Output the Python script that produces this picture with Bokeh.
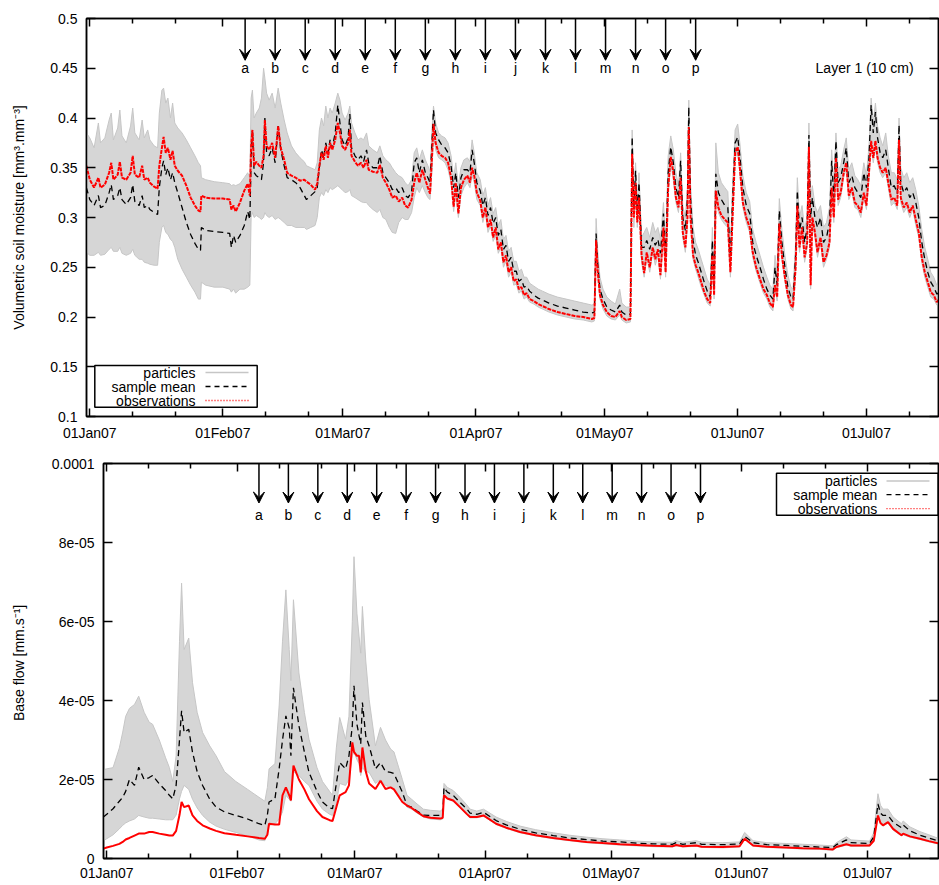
import numpy as np
from bokeh.plotting import figure
from bokeh.models import (Range1d, FixedTicker, LinearAxis, Arrow, VeeHead, Label,
                          BoxAnnotation, CustomJSTickFormatter)
from bokeh.core.properties import value
from bokeh.embed import file_html
from bokeh.resources import INLINE

FONT = "Liberation Sans"

month_days = [0, 31, 59, 90, 120, 151, 181]
month_labels = ["01Jan07", "01Feb07", "01Mar07", "01Apr07", "01May07", "01Jun07", "01Jul07"]
minor_days = [10, 20, 41, 51, 69, 79, 100, 110, 130, 140, 161, 171, 191]

arrow_days = [36.2, 43.2, 50.2, 57.2, 64.2, 71.2, 78.2, 85.2, 92.2, 99.2, 106.2, 113.2,
              120.2, 127.2, 134.2, 141.2]
arrow_labels = ["a", "b", "c", "d", "e", "f", "g", "h", "i", "j", "k", "l", "m", "n", "o", "p"]

sm_ticks = [0.1, 0.15, 0.2, 0.25, 0.3, 0.35, 0.4, 0.45, 0.5]
sm_tick_labels = ["0.1", "0.15", "0.2", "0.25", "0.3", "0.35", "0.4", "0.45", "0.5"]
bf_ticks = [0, 2, 4, 6, 8, 10]
bf_tick_labels = ["0", "2e-05", "4e-05", "6e-05", "8e-05", "0.0001"]

sm_days = [
    -0.8, 0.0, 1.0, 2.0, 2.5, 3.5, 4.5, 5.0, 5.5, 6.5,
    7.0, 7.5, 8.5, 9.5, 10.0, 10.5, 11.5, 12.2, 12.7, 13.5,
    14.0, 15.0, 15.8, 16.2, 16.8, 17.2, 17.7, 18.2, 18.8, 19.3,
    19.8, 20.5, 21.5, 22.5, 23.5, 24.5, 25.3, 25.8, 26.0, 27.0,
    29.0, 31.0, 32.6, 33.0, 33.5, 34.0, 35.0, 36.0, 36.8, 37.3,
    37.6, 37.9, 38.3, 38.8, 39.5, 40.0, 40.5, 40.8, 41.2, 41.8,
    42.5, 43.2, 43.9, 44.5, 45.3, 46.0, 47.0, 48.0, 49.0, 50.0,
    50.5, 51.5, 52.5, 53.0, 53.5, 54.0, 54.5, 55.0, 55.5, 56.0,
    56.5, 57.2, 57.8, 58.3, 58.8, 59.5, 60.2, 60.6, 61.0, 61.8,
    62.5, 63.2, 63.8, 64.5, 65.0, 66.0, 67.0, 67.6, 68.3, 69.0,
    69.8, 70.5, 71.3, 72.0, 72.8, 73.5, 74.2, 75.0, 75.6, 76.2,
    76.8, 77.5, 78.2, 78.8, 79.3, 79.8, 80.1, 80.6, 81.3, 82.0,
    82.8, 83.5, 84.2, 84.8, 85.3, 85.9, 86.5, 87.2, 88.0, 88.6,
    89.1, 89.6, 90.2, 91.0, 91.6, 92.2, 92.8, 93.4, 94.0, 94.6,
    95.2, 95.8, 96.4, 97.0, 97.6, 98.2, 98.8, 99.4, 100.0, 100.6,
    101.2, 101.8, 102.5, 103.5, 104.5, 105.5, 107.0, 109.0, 111.0, 113.0,
    115.0, 117.0, 117.6, 118.0, 118.4, 118.9, 119.6, 120.5, 121.5, 122.5,
    123.5, 124.0, 125.0, 126.0, 126.4, 126.8, 127.2, 127.6, 128.0, 128.6,
    129.2, 129.8, 130.5, 131.2, 131.8, 132.4, 133.0, 133.7, 134.2, 134.8,
    135.4, 136.0, 136.6, 137.2, 137.7, 138.2, 138.8, 139.3, 139.6, 140.0,
    140.6, 141.2, 141.8, 142.5, 143.2, 143.9, 144.6, 145.1, 145.5, 145.9,
    146.5, 147.2, 148.0, 148.7, 149.3, 149.8, 150.4, 151.0, 151.5, 152.2,
    153.0, 153.8, 154.5, 155.3, 156.2, 157.0, 157.8, 158.5, 159.2, 159.7,
    160.2, 160.7, 161.3, 162.0, 162.7, 163.4, 163.9, 164.5, 164.9, 165.4,
    166.0, 166.6, 167.2, 167.6, 168.0, 168.4, 169.0, 169.6, 170.3, 171.0,
    171.7, 172.4, 172.9, 173.4, 173.9, 174.4, 175.0, 175.7, 176.3, 176.9,
    177.6, 178.3, 179.0, 179.7, 180.4, 181.0, 181.6, 182.1, 182.6, 183.1,
    183.6, 184.2, 184.8, 185.5, 186.1, 186.8, 187.5, 188.2, 188.6, 189.0,
    189.7, 190.4, 191.1, 191.8, 192.5, 193.2, 193.9, 194.6, 195.3, 196.0,
    196.7, 197.4, 198.0]

sm_obs = [
    0.352, 0.338, 0.330, 0.340, 0.330, 0.333, 0.345, 0.355, 0.338, 0.343,
    0.356, 0.340, 0.338, 0.345, 0.362, 0.343, 0.340, 0.352, 0.338, 0.340,
    0.335, 0.331, 0.329, 0.352, 0.370, 0.381, 0.365, 0.370, 0.358, 0.367,
    0.352, 0.347, 0.342, 0.332, 0.320, 0.312, 0.307, 0.306, 0.322, 0.320,
    0.319, 0.319, 0.318, 0.308, 0.312, 0.306, 0.315, 0.327, 0.334, 0.322,
    0.372, 0.388, 0.352, 0.356, 0.352, 0.350, 0.362, 0.398, 0.372, 0.368,
    0.375, 0.360, 0.392, 0.370, 0.358, 0.345, 0.342, 0.340, 0.337, 0.338,
    0.336, 0.333, 0.328, 0.334, 0.352, 0.365, 0.358, 0.372, 0.360, 0.375,
    0.368, 0.378, 0.395, 0.385, 0.372, 0.368, 0.375, 0.388, 0.362, 0.356,
    0.352, 0.355, 0.350, 0.358, 0.348, 0.346, 0.345, 0.353, 0.340, 0.335,
    0.328, 0.320, 0.322, 0.316, 0.320, 0.312, 0.310, 0.318, 0.335, 0.345,
    0.335, 0.348, 0.338, 0.330, 0.324, 0.365, 0.394, 0.375, 0.365, 0.362,
    0.360, 0.355, 0.340, 0.311, 0.335, 0.304, 0.330, 0.338, 0.342, 0.335,
    0.350, 0.342, 0.325, 0.317, 0.300, 0.310, 0.290, 0.298, 0.280, 0.290,
    0.268, 0.275, 0.255, 0.262, 0.245, 0.250, 0.236, 0.238, 0.228, 0.230,
    0.222, 0.224, 0.218, 0.216, 0.213, 0.211, 0.208, 0.205, 0.203, 0.201,
    0.200, 0.198, 0.199, 0.277, 0.245, 0.222, 0.212, 0.205, 0.201, 0.200,
    0.206, 0.200, 0.197, 0.198, 0.364, 0.300, 0.335, 0.295, 0.320, 0.262,
    0.244, 0.265, 0.250, 0.270, 0.258, 0.268, 0.242, 0.290, 0.245, 0.330,
    0.361, 0.345, 0.320, 0.310, 0.340, 0.285, 0.270, 0.300, 0.391, 0.300,
    0.262, 0.252, 0.245, 0.235, 0.225, 0.218, 0.214, 0.262, 0.222, 0.327,
    0.310, 0.302, 0.298, 0.295, 0.245, 0.300, 0.365, 0.371, 0.350, 0.315,
    0.300, 0.290, 0.265, 0.250, 0.238, 0.228, 0.222, 0.214, 0.210, 0.232,
    0.220, 0.294, 0.262, 0.240, 0.222, 0.212, 0.210, 0.250, 0.312, 0.270,
    0.290, 0.260, 0.275, 0.371, 0.232, 0.300, 0.285, 0.265, 0.280, 0.255,
    0.262, 0.275, 0.330, 0.300, 0.360, 0.318, 0.325, 0.345, 0.355, 0.322,
    0.330, 0.315, 0.312, 0.305, 0.325, 0.312, 0.345, 0.377, 0.360, 0.377,
    0.360, 0.350, 0.345, 0.350, 0.335, 0.318, 0.320, 0.312, 0.378, 0.320,
    0.310, 0.315, 0.305, 0.312, 0.298, 0.285, 0.260, 0.245, 0.235, 0.225,
    0.222, 0.215, 0.218]

sm_mean = [
    0.330, 0.318, 0.312, 0.322, 0.310, 0.312, 0.325, 0.333, 0.318, 0.322,
    0.330, 0.318, 0.313, 0.320, 0.333, 0.316, 0.312, 0.322, 0.310, 0.312,
    0.308, 0.305, 0.303, 0.330, 0.350, 0.357, 0.343, 0.350, 0.338, 0.345,
    0.335, 0.325, 0.310, 0.295, 0.283, 0.274, 0.268, 0.267, 0.290, 0.287,
    0.286, 0.285, 0.284, 0.270, 0.282, 0.275, 0.282, 0.292, 0.306, 0.298,
    0.360, 0.388, 0.345, 0.342, 0.340, 0.338, 0.355, 0.400, 0.365, 0.362,
    0.370, 0.355, 0.392, 0.368, 0.352, 0.340, 0.338, 0.335, 0.330, 0.322,
    0.318, 0.322, 0.326, 0.330, 0.350, 0.368, 0.360, 0.375, 0.365, 0.378,
    0.370, 0.385, 0.413, 0.395, 0.378, 0.372, 0.380, 0.404, 0.370, 0.362,
    0.358, 0.362, 0.356, 0.368, 0.355, 0.350, 0.350, 0.362, 0.345, 0.340,
    0.335, 0.328, 0.330, 0.325, 0.330, 0.322, 0.320, 0.326, 0.355, 0.360,
    0.345, 0.358, 0.345, 0.340, 0.335, 0.380, 0.408, 0.385, 0.378, 0.373,
    0.370, 0.365, 0.352, 0.330, 0.345, 0.320, 0.340, 0.348, 0.348, 0.345,
    0.368, 0.355, 0.335, 0.327, 0.312, 0.320, 0.302, 0.310, 0.294, 0.300,
    0.282, 0.288, 0.268, 0.272, 0.256, 0.260, 0.246, 0.246, 0.236, 0.238,
    0.230, 0.231, 0.226, 0.222, 0.219, 0.217, 0.214, 0.211, 0.209, 0.207,
    0.205, 0.204, 0.205, 0.284, 0.252, 0.228, 0.218, 0.210, 0.207, 0.205,
    0.212, 0.205, 0.202, 0.203, 0.381, 0.310, 0.347, 0.305, 0.335, 0.270,
    0.270, 0.277, 0.268, 0.280, 0.272, 0.278, 0.264, 0.304, 0.260, 0.345,
    0.371, 0.355, 0.330, 0.320, 0.357, 0.300, 0.287, 0.320, 0.411, 0.320,
    0.277, 0.262, 0.255, 0.245, 0.235, 0.226, 0.220, 0.277, 0.228, 0.344,
    0.325, 0.318, 0.312, 0.310, 0.257, 0.318, 0.375, 0.381, 0.362, 0.330,
    0.312, 0.304, 0.275, 0.262, 0.250, 0.238, 0.228, 0.222, 0.218, 0.250,
    0.232, 0.307, 0.275, 0.250, 0.230, 0.220, 0.218, 0.262, 0.327, 0.287,
    0.300, 0.275, 0.290, 0.383, 0.300, 0.320, 0.300, 0.290, 0.300, 0.275,
    0.280, 0.295, 0.357, 0.320, 0.377, 0.335, 0.340, 0.355, 0.370, 0.335,
    0.342, 0.330, 0.325, 0.320, 0.345, 0.330, 0.360, 0.413, 0.385, 0.406,
    0.380, 0.365, 0.360, 0.368, 0.350, 0.330, 0.332, 0.324, 0.393, 0.335,
    0.325, 0.330, 0.320, 0.325, 0.315, 0.300, 0.275, 0.258, 0.245, 0.235,
    0.230, 0.223, 0.225]

sm_particles_max = [
    0.385, 0.380, 0.370, 0.395, 0.375, 0.380, 0.398, 0.405, 0.378, 0.390,
    0.408, 0.382, 0.375, 0.392, 0.410, 0.385, 0.378, 0.398, 0.380, 0.388,
    0.378, 0.372, 0.370, 0.405, 0.428, 0.430, 0.415, 0.420, 0.400, 0.415,
    0.395, 0.390, 0.385, 0.378, 0.370, 0.362, 0.355, 0.352, 0.340, 0.338,
    0.336, 0.335, 0.334, 0.332, 0.333, 0.332, 0.334, 0.340, 0.345, 0.340,
    0.420, 0.428, 0.400, 0.405, 0.410, 0.420, 0.450, 0.440, 0.425, 0.418,
    0.425, 0.410, 0.430, 0.415, 0.398, 0.385, 0.372, 0.365, 0.360, 0.356,
    0.352, 0.350, 0.348, 0.355, 0.388, 0.400, 0.392, 0.412, 0.400, 0.410,
    0.405, 0.415, 0.425, 0.418, 0.405, 0.398, 0.405, 0.412, 0.395, 0.385,
    0.378, 0.380, 0.378, 0.385, 0.372, 0.368, 0.365, 0.372, 0.362, 0.358,
    0.355, 0.350, 0.345, 0.342, 0.340, 0.335, 0.332, 0.338, 0.365, 0.370,
    0.358, 0.368, 0.358, 0.352, 0.346, 0.392, 0.412, 0.395, 0.385, 0.382,
    0.380, 0.375, 0.362, 0.340, 0.355, 0.332, 0.350, 0.358, 0.360, 0.356,
    0.378, 0.365, 0.345, 0.338, 0.322, 0.330, 0.312, 0.320, 0.304, 0.310,
    0.292, 0.298, 0.278, 0.282, 0.266, 0.270, 0.256, 0.256, 0.246, 0.248,
    0.240, 0.240, 0.234, 0.231, 0.228, 0.226, 0.223, 0.220, 0.218, 0.216,
    0.214, 0.212, 0.213, 0.299, 0.265, 0.240, 0.228, 0.220, 0.216, 0.213,
    0.228, 0.214, 0.210, 0.210, 0.388, 0.320, 0.355, 0.315, 0.345, 0.280,
    0.285, 0.290, 0.280, 0.295, 0.285, 0.290, 0.278, 0.315, 0.275, 0.362,
    0.382, 0.368, 0.345, 0.332, 0.365, 0.312, 0.300, 0.330, 0.418, 0.335,
    0.290, 0.275, 0.268, 0.258, 0.248, 0.238, 0.232, 0.290, 0.240, 0.375,
    0.345, 0.335, 0.330, 0.326, 0.270, 0.330, 0.388, 0.394, 0.375, 0.342,
    0.325, 0.316, 0.288, 0.275, 0.262, 0.250, 0.240, 0.232, 0.228, 0.262,
    0.245, 0.319, 0.288, 0.262, 0.242, 0.230, 0.228, 0.275, 0.340, 0.300,
    0.312, 0.288, 0.302, 0.395, 0.320, 0.332, 0.312, 0.305, 0.312, 0.290,
    0.295, 0.310, 0.368, 0.333, 0.385, 0.348, 0.352, 0.368, 0.380, 0.348,
    0.355, 0.342, 0.338, 0.332, 0.355, 0.342, 0.372, 0.420, 0.395, 0.415,
    0.392, 0.380, 0.372, 0.385, 0.362, 0.345, 0.345, 0.338, 0.400, 0.350,
    0.340, 0.345, 0.335, 0.340, 0.328, 0.312, 0.288, 0.270, 0.258, 0.245,
    0.240, 0.232, 0.235]

sm_particles_min = [
    0.265, 0.262, 0.262, 0.265, 0.262, 0.263, 0.268, 0.270, 0.266, 0.266,
    0.270, 0.264, 0.262, 0.264, 0.268, 0.262, 0.258, 0.258, 0.255, 0.254,
    0.253, 0.252, 0.252, 0.275, 0.290, 0.292, 0.285, 0.283, 0.278, 0.276,
    0.270, 0.258, 0.248, 0.240, 0.232, 0.225, 0.218, 0.218, 0.235, 0.232,
    0.230, 0.230, 0.228, 0.225, 0.228, 0.224, 0.228, 0.228, 0.230, 0.232,
    0.300, 0.305, 0.300, 0.302, 0.300, 0.298, 0.300, 0.305, 0.302, 0.300,
    0.302, 0.298, 0.300, 0.298, 0.295, 0.292, 0.292, 0.290, 0.290, 0.290,
    0.288, 0.290, 0.292, 0.300, 0.320, 0.325, 0.322, 0.328, 0.325, 0.330,
    0.328, 0.330, 0.332, 0.330, 0.328, 0.325, 0.326, 0.328, 0.322, 0.320,
    0.318, 0.316, 0.315, 0.315, 0.312, 0.308, 0.305, 0.308, 0.300, 0.298,
    0.290, 0.285, 0.284, 0.295, 0.300, 0.298, 0.298, 0.305, 0.320, 0.330,
    0.325, 0.332, 0.325, 0.320, 0.318, 0.350, 0.385, 0.368, 0.360, 0.358,
    0.355, 0.348, 0.335, 0.306, 0.325, 0.300, 0.322, 0.330, 0.335, 0.330,
    0.342, 0.335, 0.318, 0.312, 0.295, 0.305, 0.285, 0.292, 0.276, 0.282,
    0.264, 0.270, 0.250, 0.256, 0.240, 0.245, 0.232, 0.233, 0.224, 0.226,
    0.218, 0.220, 0.215, 0.213, 0.210, 0.208, 0.205, 0.202, 0.200, 0.198,
    0.197, 0.195, 0.196, 0.270, 0.240, 0.218, 0.208, 0.201, 0.198, 0.197,
    0.202, 0.197, 0.194, 0.195, 0.355, 0.290, 0.330, 0.290, 0.315, 0.255,
    0.240, 0.260, 0.245, 0.265, 0.252, 0.262, 0.238, 0.285, 0.240, 0.325,
    0.355, 0.338, 0.315, 0.305, 0.332, 0.280, 0.265, 0.295, 0.385, 0.295,
    0.258, 0.248, 0.240, 0.230, 0.222, 0.214, 0.211, 0.258, 0.218, 0.322,
    0.305, 0.298, 0.293, 0.290, 0.240, 0.295, 0.360, 0.365, 0.345, 0.310,
    0.295, 0.285, 0.260, 0.246, 0.234, 0.224, 0.218, 0.210, 0.206, 0.228,
    0.216, 0.290, 0.258, 0.236, 0.218, 0.208, 0.206, 0.246, 0.308, 0.265,
    0.285, 0.255, 0.270, 0.365, 0.228, 0.295, 0.280, 0.260, 0.275, 0.250,
    0.258, 0.270, 0.325, 0.295, 0.355, 0.312, 0.320, 0.340, 0.350, 0.318,
    0.325, 0.310, 0.308, 0.300, 0.320, 0.308, 0.340, 0.370, 0.355, 0.370,
    0.355, 0.345, 0.340, 0.345, 0.330, 0.312, 0.315, 0.308, 0.372, 0.315,
    0.305, 0.310, 0.300, 0.308, 0.292, 0.280, 0.255, 0.240, 0.230, 0.220,
    0.218, 0.212, 0.214]

bf_days = [
    -0.8, 0.0, 1.5, 3.0, 3.8, 4.5, 5.4, 6.6, 7.6, 8.9,
    10.1, 10.9, 12.5, 14.0, 14.9, 15.7, 16.5, 17.3, 17.8, 18.4,
    19.5, 20.4, 21.5, 22.8, 24.5, 26.0, 28.0, 30.7, 33.5, 36.2,
    37.6, 38.2, 38.6, 40.0, 41.0, 41.8, 42.6, 43.4, 43.8, 44.4,
    45.7, 47.0, 48.1, 50.0, 51.3, 53.0, 53.7, 54.6, 55.4, 56.8,
    57.6, 58.4, 58.8, 59.5, 60.0, 60.4, 60.8, 61.6, 62.4, 63.9,
    65.1, 66.3, 67.5, 68.3, 70.3, 71.4, 72.5, 73.8, 75.3, 77.0,
    79.3, 79.9, 80.2, 81.0, 82.4, 84.0, 85.6, 86.4, 88.0, 89.6,
    92.6, 95.0, 98.3, 102.0, 106.2, 110.0, 114.1, 118.0, 122.0, 126.0,
    129.9, 134.5, 135.4, 137.0, 140.2, 141.5, 146.5, 150.5, 151.7, 153.7,
    157.0, 161.6, 165.5, 169.5, 172.7, 173.5, 175.9, 177.0, 181.4, 182.4,
    183.4, 184.0, 184.6, 185.8, 187.0, 189.0, 189.4, 191.0, 193.4, 195.5,
    198.0]

bf_obs = [
    0.25, 0.28, 0.32, 0.37, 0.42, 0.48, 0.52, 0.58, 0.63, 0.63,
    0.67, 0.67, 0.63, 0.60, 0.58, 0.58, 0.70, 1.10, 1.43, 1.30,
    1.34, 1.09, 0.95, 0.84, 0.76, 0.70, 0.64, 0.60, 0.56, 0.52,
    0.50, 0.60, 0.88, 0.86, 0.86, 1.60, 1.80, 1.60, 1.47, 2.35,
    2.00, 1.75, 1.50, 1.20, 1.05, 0.97, 0.95, 1.30, 1.60, 1.68,
    1.85, 2.94, 2.70, 2.60, 2.60, 2.18, 2.81, 2.20, 1.90, 1.76,
    1.97, 1.76, 1.80, 1.75, 1.43, 1.34, 1.28, 1.18, 1.07, 1.03,
    1.01, 1.03, 1.60, 1.52, 1.47, 1.30, 1.13, 1.05, 1.05, 1.09,
    0.88, 0.78, 0.67, 0.59, 0.52, 0.47, 0.42, 0.39, 0.36, 0.34,
    0.32, 0.31, 0.34, 0.31, 0.33, 0.30, 0.29, 0.31, 0.50, 0.33,
    0.30, 0.28, 0.26, 0.25, 0.23, 0.29, 0.36, 0.33, 0.33, 0.45,
    1.09, 0.90, 0.84, 0.92, 0.75, 0.59, 0.63, 0.56, 0.50, 0.44,
    0.38]

bf_mean = [
    1.05, 1.12, 1.26, 1.45, 1.55, 1.70, 2.00, 1.85, 2.31, 2.00,
    2.05, 2.10, 1.89, 1.72, 1.60, 1.51, 1.85, 3.00, 3.74, 3.19,
    3.27, 2.69, 2.20, 1.85, 1.50, 1.30, 1.18, 1.09, 1.00, 0.88,
    0.84, 1.10, 1.43, 1.51, 2.27, 3.00, 3.61, 3.30, 2.60, 4.32,
    3.36, 2.70, 2.18, 1.70, 1.43, 1.28, 1.26, 1.90, 2.43, 2.27,
    2.60, 3.36, 4.37, 3.40, 3.11, 2.90, 3.95, 3.10, 2.85, 2.27,
    2.43, 2.20, 2.18, 2.15, 1.68, 1.34, 1.30, 1.20, 1.10, 1.09,
    1.09, 1.10, 1.80, 1.68, 1.60, 1.42, 1.26, 1.15, 1.12, 1.17,
    0.96, 0.85, 0.74, 0.65, 0.58, 0.52, 0.48, 0.44, 0.42, 0.39,
    0.37, 0.36, 0.40, 0.36, 0.40, 0.36, 0.35, 0.37, 0.56, 0.40,
    0.35, 0.33, 0.31, 0.29, 0.28, 0.35, 0.47, 0.40, 0.38, 0.55,
    1.38, 1.15, 1.09, 1.09, 0.92, 0.78, 0.85, 0.70, 0.59, 0.52,
    0.44]

bf_particles_max = [
    2.25, 2.27, 2.30, 2.80, 3.20, 3.60, 3.80, 3.90, 4.11, 3.70,
    3.45, 3.40, 3.00, 2.55, 2.30, 1.95, 2.60, 5.50, 6.97, 5.29,
    5.58, 4.45, 3.70, 3.19, 2.85, 2.60, 2.20, 1.95, 1.75, 1.55,
    1.45, 1.80, 2.27, 2.40, 3.86, 5.50, 6.80, 5.29, 4.50, 6.55,
    4.70, 3.70, 3.02, 2.30, 1.95, 1.70, 1.60, 2.80, 3.57, 3.02,
    3.60, 6.00, 7.64, 6.20, 5.63, 5.20, 6.38, 5.00, 4.03, 2.85,
    3.32, 3.00, 2.77, 2.70, 2.00, 1.60, 1.50, 1.38, 1.25, 1.22,
    1.20, 1.25, 1.90, 1.80, 1.72, 1.55, 1.36, 1.25, 1.20, 1.25,
    1.05, 0.94, 0.82, 0.73, 0.65, 0.59, 0.54, 0.50, 0.47, 0.44,
    0.42, 0.41, 0.45, 0.41, 0.45, 0.41, 0.40, 0.42, 0.66, 0.45,
    0.40, 0.38, 0.36, 0.34, 0.32, 0.40, 0.55, 0.47, 0.44, 0.65,
    1.64, 1.35, 1.25, 1.25, 1.05, 0.88, 0.95, 0.80, 0.68, 0.60,
    0.50]

bf_particles_min = [
    0.45, 0.50, 0.60, 0.75, 0.84, 0.90, 0.95, 1.00, 1.09, 1.05,
    1.02, 1.02, 1.00, 0.98, 0.98, 0.98, 1.10, 1.51, 1.70, 1.85,
    1.75, 1.50, 1.28, 1.09, 0.92, 0.82, 0.74, 0.66, 0.57, 0.47,
    0.45, 0.70, 0.84, 0.88, 1.00, 1.18, 1.60, 1.50, 1.45, 2.20,
    2.10, 1.95, 1.85, 1.45, 1.25, 1.12, 1.09, 1.40, 1.90, 1.85,
    2.00, 2.60, 2.70, 2.50, 2.40, 2.10, 2.30, 2.20, 2.18, 1.90,
    2.00, 1.85, 1.80, 1.75, 1.51, 1.30, 1.25, 1.15, 1.05, 1.00,
    0.98, 1.00, 1.58, 1.50, 1.45, 1.28, 1.11, 1.03, 1.03, 1.07,
    0.86, 0.76, 0.65, 0.57, 0.50, 0.45, 0.40, 0.37, 0.34, 0.32,
    0.30, 0.29, 0.32, 0.29, 0.31, 0.28, 0.27, 0.29, 0.48, 0.31,
    0.28, 0.26, 0.24, 0.23, 0.21, 0.27, 0.34, 0.31, 0.31, 0.43,
    1.05, 0.88, 0.82, 0.90, 0.72, 0.57, 0.60, 0.54, 0.48, 0.42,
    0.36]

GREY_FILL = "#d6d6d6"
GREY_LINE = "#c6c6c6"
RED = "#ff0000"
MEAN_DASH = "6 4"

X0, X1 = -0.77, 197.8
x_range = Range1d(X0, X1)


def style_axes(p, yticks, ylabels, ylabel, label_standoff, x_standoff):
    bottom = p.below[0]
    left = p.left[0]
    bottom.ticker = FixedTicker(ticks=month_days, minor_ticks=minor_days)
    bottom.major_label_overrides = dict(zip(month_days, month_labels))
    bottom.major_label_standoff = x_standoff
    left.ticker = FixedTicker(ticks=yticks)
    left.major_label_overrides = dict(zip(yticks, ylabels))
    left.major_label_standoff = 9
    left.axis_label = ylabel
    left.axis_label_standoff = label_standoff
    left.axis_label_text_font_style = "normal"
    left.axis_label_text_font = FONT
    left.axis_label_text_font_size = "14px"
    left.axis_label_text_color = "black"
    top = LinearAxis(ticker=FixedTicker(ticks=month_days, minor_ticks=minor_days),
                     formatter=CustomJSTickFormatter(code="return ''"))
    right = LinearAxis(ticker=FixedTicker(ticks=yticks),
                       formatter=CustomJSTickFormatter(code="return ''"))
    p.add_layout(top, "above")
    p.add_layout(right, "right")
    for ax in [bottom, top]:
        ax.major_tick_in = 8
        ax.major_tick_out = 0
        ax.minor_tick_in = 5
        ax.minor_tick_out = 0
        ax.minor_tick_line_color = "black"
        ax.minor_tick_line_width = 1.5
    for ax in [left, right]:
        ax.major_tick_in = 9
        ax.major_tick_out = 0
        ax.minor_tick_line_color = None
    for ax in [bottom, left, top, right]:
        ax.axis_line_width = 1.5
        ax.axis_line_color = "black"
        ax.major_tick_line_width = 1.5
        ax.major_tick_line_color = "black"
        ax.major_label_text_font = FONT
        ax.major_label_text_font_size = "14px"
        ax.major_label_text_color = "black"
    for ax in [top, right]:
        ax.major_label_text_font_size = "0px"
        ax.major_label_standoff = 0
    p.xgrid.visible = False
    p.ygrid.visible = False
    p.outline_line_color = "black"
    p.outline_line_width = 1.5
    p.background_fill_color = "white"
    p.border_fill_color = "white"


def draw_series(p, days, pmin, pmax, mean, obs, obs_dash):
    p.varea(x=days, y1=pmin, y2=pmax, fill_color=GREY_FILL)
    p.line(days, pmax, line_color=GREY_LINE, line_width=1)
    p.line(days, pmin, line_color=GREY_LINE, line_width=1)
    p.line(days, mean, line_color="black", line_width=1.3, line_dash=MEAN_DASH)
    p.line(days, obs, line_color=RED, line_width=2, line_dash=obs_dash)


def draw_arrows(p, y_top, y_tip, y_text):
    for d in arrow_days:
        p.add_layout(Arrow(end=VeeHead(size=11, fill_color="black", line_color="black",
                                       line_width=1),
                           x_start=d, y_start=y_top, x_end=d, y_end=y_tip,
                           line_color="black", line_width=1.5))
    p.text(x=arrow_days, y=[y_text] * len(arrow_days), text=arrow_labels,
           text_font=value(FONT), text_font_size="14px", text_color="black",
           text_align="center", text_baseline="middle")


def draw_legend(p, fw, fh, yr, box_l, box_r, box_b, box_t, text_r, line_l, line_r, rows):
    """Positions in pixels measured from the frame's left / bottom edge."""
    def X(px):
        return X0 + px * (X1 - X0) / fw

    def Y(py):
        return yr[0] + py * (yr[1] - yr[0]) / fh

    p.add_layout(BoxAnnotation(left=X(box_l), right=X(box_r), bottom=Y(box_b), top=Y(box_t),
                               fill_color="white", fill_alpha=1.0,
                               line_color="black", line_alpha=1.0, line_width=1.5))
    styles = [("particles", GREY_LINE, 1.5, "solid"),
              ("sample mean", "black", 1.3, "5 4"),
              ("observations", RED, 1.3, "1 2")]
    for (txt, col, lw, dash), ry in zip(styles, rows):
        p.add_layout(Label(x=X(text_r), y=Y(ry), text=txt, text_align="right",
                           text_baseline="middle", text_font=FONT, text_font_size="14px",
                           text_color="black"))
        p.add_layout(Arrow(end=None, x_start=X(line_l), y_start=Y(ry), x_end=X(line_r),
                           y_end=Y(ry), line_color=col, line_width=lw, line_dash=dash))


# ---------------- top panel ----------------
SM_Y = (0.1, 0.5)
p1 = figure(width=939, height=450, x_range=x_range, y_range=Range1d(*SM_Y),
            output_backend="svg", toolbar_location=None,
            min_border_left=86, min_border_right=1, min_border_top=18, min_border_bottom=34)
style_axes(p1, sm_ticks, sm_tick_labels, "Volumetric soil moisture [mm³.mm⁻³]", 20, 8)
draw_series(p1, sm_days, sm_particles_min, sm_particles_max, sm_mean, sm_obs, "4 1")
draw_arrows(p1, 0.5, 0.458, 0.45)
p1.add_layout(Label(x=192, y=0.45, text="Layer 1 (10 cm)", text_align="right",
                    text_baseline="middle", text_font=FONT, text_font_size="14px",
                    text_color="black"))
draw_legend(p1, 852, 398, SM_Y, 8.3, 170.7, 9.3, 51, 109, 119, 162, [44, 30, 16])

# ---------------- bottom panel ----------------
BF_Y = (0, 10)
p2 = figure(width=939, height=433, x_range=x_range, y_range=Range1d(*BF_Y),
            output_backend="svg", toolbar_location=None,
            min_border_left=103, min_border_right=1, min_border_top=13, min_border_bottom=23)
style_axes(p2, bf_ticks, bf_tick_labels, "Base flow  [mm.s⁻¹]", 22, 6)
draw_series(p2, bf_days, bf_particles_min, bf_particles_max, bf_mean, bf_obs, "solid")
draw_arrows(p2, 10, 9.0, 8.7)
draw_legend(p2, 835, 397, BF_Y, 673, 834.5, 345, 387.3, 773.7, 783, 826,
            [379.3, 365.7, 351.7])

open("out.html", "w").write(file_html([p1, p2], INLINE))
